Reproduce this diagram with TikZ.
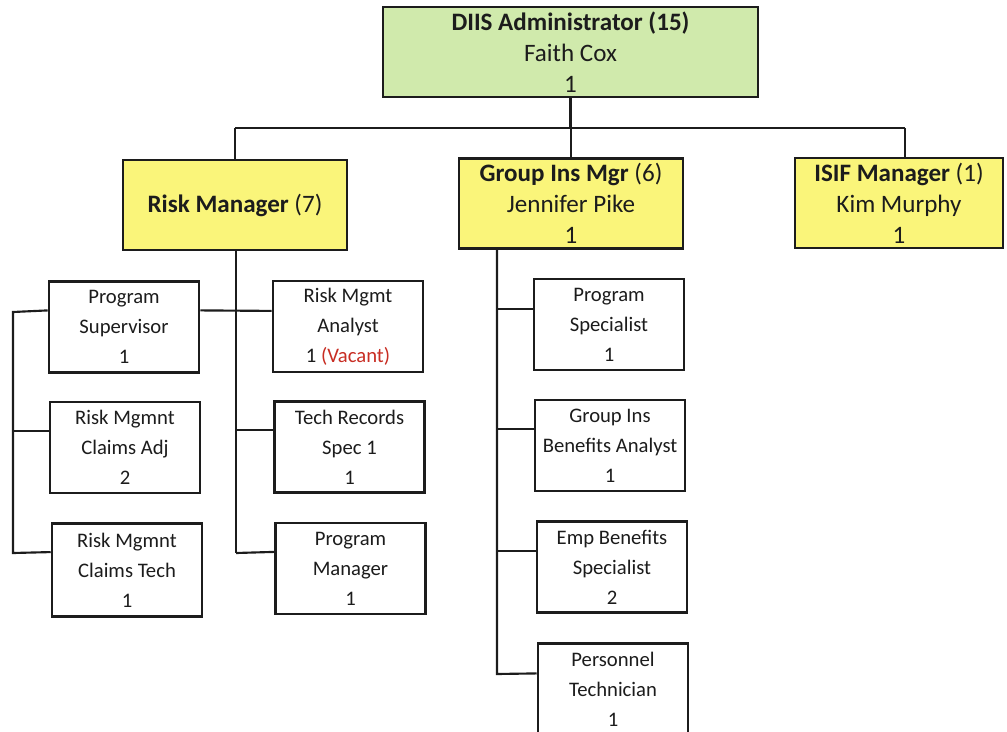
\documentclass[tikz,border=0pt]{standalone}
\usepackage{fontspec}
\setmainfont{Carlito}
\usetikzlibrary{calc}
\definecolor{adminfill}{RGB}{208,234,172}
\definecolor{mgrfill}{RGB}{250,245,122}
\definecolor{inkc}{RGB}{28,28,28}
\definecolor{vacant}{RGB}{200,45,35}
\tikzset{
  box/.style={draw=inkc, line width=1.9pt, inner sep=0pt, align=center, text=inkc},
  admin/.style={box, fill=adminfill, font=\fontsize{18.8}{23.2}\selectfont},
  mgr/.style={box, fill=mgrfill, minimum width=168pt, minimum height=67.5pt,
              font=\fontsize{18.8}{23.2}\selectfont},
  staff/.style={box, fill=white, minimum width=112.5pt, minimum height=68pt,
                font=\fontsize{15.5}{22.5}\selectfont},
  link/.style={draw=inkc, line width=1.6pt}
}
\begin{document}
\begin{tikzpicture}[x=0.75pt, y=-0.75pt]
\useasboundingbox (0,0) rectangle (1007,732);

% top level
\node[admin, minimum width=281pt, minimum height=67.5pt] (admin) at (570.5,52)
  {\textbf{DIIS Administrator (15)}\\Faith Cox\\1};

% managers
\node[mgr] (risk) at (235,205) {\textbf{Risk Manager} (7)};
\node[mgr] (group) at (571,203.5) {\textbf{Group Ins Mgr} (6)\\Jennifer Pike\\1};
\node[mgr, minimum width=156pt] (isif) at (899,203) {\textbf{ISIF Manager} (1)\\Kim Murphy\\1};

% risk manager staff
\node[staff] (ps) at (124,327) {Program\\Supervisor\\1};
\node[staff] (rma) at (348,326.5) {Risk Mgmt\\Analyst\\1 \textcolor{vacant}{(Vacant)}};
\node[staff] (ca) at (125,447.5) {Risk Mgmnt\\Claims Adj\\2};
\node[staff, minimum height=70pt] (ct) at (127,570) {Risk Mgmnt\\Claims Tech\\1};
\node[staff] (tr) at (349.5,447) {Tech Records\\Spec 1\\1};
\node[staff] (pm) at (350.5,568.5) {Program\\Manager\\1};

% group insurance staff
\node[staff] (psp) at (609,324.5) {Program\\Specialist\\1};
\node[staff] (gba) at (610,445.5) {Group Ins\\Benefits Analyst\\1};
\node[staff] (ebs) at (612,567) {Emp Benefits\\Specialist\\2};
\node[staff] (pt) at (613,689) {Personnel\\Technician\\1};

% top bus
\coordinate (busL) at (235,128);
\coordinate (busR) at (905,128);
\draw[link] (busL) -- (busR);
\draw[link] (admin.south) -- (admin.south |- busL);
\draw[link] (busL) -- (risk.north);
\draw[link] (group.north |- busL) -- (group.north);
\draw[link] (busR) -- (busR |- isif.north);

% risk manager branch
\coordinate (rbus) at (236,553);
\coordinate (lbus) at (13,312);
\draw[link] (risk.south -| rbus) -- (rbus);
\draw[link] ($(ps.north east)+(0,30)$) -- ($(rma.north west)+(0,31)$);
\draw[link] ($(ps.north west)+(0,30)$) -- (lbus) -- (lbus |- rbus) -- ($(ct.north west)+(0,30)$);
\draw[link] (lbus |- ca.north) ++(0,30) -- ($(ca.north west)+(0,30)$);
\draw[link] (rbus |- tr.north) ++(0,30) -- ($(tr.north west)+(0,30)$);
\draw[link] (rbus) -- ($(pm.north west)+(0,30)$);

% group insurance branch
\coordinate (gbus) at (497,674);
\draw[link] (group.south -| gbus) -- (gbus) -- ($(pt.north west)+(0,31)$);
\draw[link] (gbus |- psp.north) ++(0,31) -- ($(psp.north west)+(0,31)$);
\draw[link] (gbus |- gba.north) ++(0,30) -- ($(gba.north west)+(0,30)$);
\draw[link] (gbus |- ebs.north) ++(0,31) -- ($(ebs.north west)+(0,31)$);
\end{tikzpicture}
\end{document}
